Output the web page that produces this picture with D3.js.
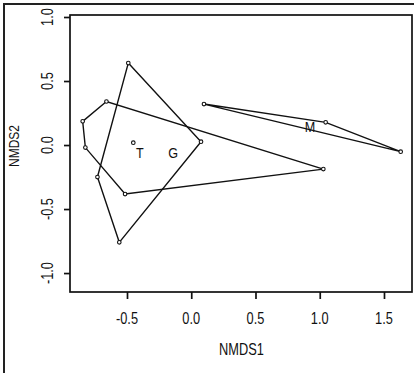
<!DOCTYPE html>
<html lang="en">
<head>
	<meta charset="UTF-8">
	<title>NMDS hulls</title>
	<style>
		body { margin: 0; background: #fff; }
		text { font-family: "Liberation Sans", Arial, sans-serif; fill: #111; }
	</style>
</head>
<body>
	<svg id="chart" width="414" height="373"></svg>
	<script src="https://d3js.org/d3.v7.min.js"></script>
	<script>

	// hull vertices (NMDS1, NMDS2)
	var hullT = [[-0.49, 0.64], [0.076, 0.026], [-0.56, -0.76], [-0.73, -0.25]];
	var hullG = [[-0.66, 0.34], [-0.845, 0.185], [-0.824, -0.02], [-0.515, -0.383], [1.028, -0.188]];
	var hullM = [[0.099, 0.32], [1.046, 0.177], [1.63, -0.052]];
	var extraPoints = [[-0.451, 0.018]];

	var groupNames = ["T", "G", "M"];
	var labelX = [-0.40, -0.14, 0.924];
	var labelY = [-0.063, -0.065, 0.14];

	var xTicks = [-0.5, 0.0, 0.5, 1.0, 1.5];
	var yTicks = [-1.0, -0.5, 0.0, 0.5, 1.0];

	var svg = d3.select("#chart"),
		plotL = 70, plotR = 412, plotT = 15, plotB = 292;

	var x = d3.scaleLinear().domain([-0.9436, 1.718]).range([plotL, plotR]);
	var y = d3.scaleLinear().domain([-1.148, 1.0156]).range([plotB, plotT]);

	// outer frame (cut off on the right and bottom)
	svg.append("rect")
		.attr("x", 4).attr("y", 4).attr("width", 520).attr("height", 520)
		.attr("fill", "none").attr("stroke", "#222").attr("stroke-width", 2);

	// plot box
	svg.append("rect")
		.attr("x", plotL).attr("y", plotT).attr("width", plotR - plotL).attr("height", plotB - plotT)
		.attr("fill", "none").attr("stroke", "#111").attr("stroke-width", 1.7);

	// axes
	var xAxis = svg.append("g").attr("transform", "translate(0," + plotB + ")")
		.call(d3.axisBottom(x).tickValues(xTicks).tickSize(7).tickFormat(d3.format(".1f")));
	var yAxis = svg.append("g").attr("transform", "translate(" + plotL + ",0)")
		.call(d3.axisLeft(y).tickValues(yTicks).tickSize(6).tickFormat(d3.format(".1f")));

	[xAxis, yAxis].forEach(function (g) {
		g.select(".domain").remove();
		g.selectAll(".tick line").attr("stroke", "#111").attr("stroke-width", 1.7);
		g.selectAll(".tick text").remove();
	});

	function label(txt, px, py, size, rot) {
		svg.append("text")
			.attr("transform", "translate(" + px + "," + py + ")" + (rot ? " rotate(-90)" : "") + " scale(0.8,1)")
			.attr("text-anchor", "middle")
			.attr("dy", "0.36em")
			.style("font-size", size + "px")
			.text(txt);
	}

	xTicks.forEach(function (t) {
		label(d3.format(".1f")(t).replace("\u2212", "-"), x(t), 318, 16, false);
	});
	yTicks.forEach(function (t) {
		label(d3.format(".1f")(t).replace("\u2212", "-"), 47, y(t), 16, true);
	});
	label("NMDS1", (plotL + plotR) / 2 + 0.5, 349, 16, false);
	label("NMDS2", 14, 146, 15, true);

	// hulls
	var line = d3.line().x(function (d) { return x(d[0]); }).y(function (d) { return y(d[1]); })
		.curve(d3.curveLinearClosed);

	[hullT, hullG, hullM].forEach(function (h) {
		svg.append("path")
			.attr("d", line(h))
			.attr("fill", "none")
			.attr("stroke", "#111")
			.attr("stroke-width", 1.4);
	});

	var pts = hullT.concat(hullG, hullM, extraPoints);
	svg.selectAll("circle.pt")
		.data(pts)
		.enter().append("circle")
		.attr("class", "pt")
		.attr("cx", function (d) { return x(d[0]); })
		.attr("cy", function (d) { return y(d[1]); })
		.attr("r", 1.8)
		.attr("fill", "#fff")
		.attr("stroke", "#111")
		.attr("stroke-width", 1.1);

	groupNames.forEach(function (g, i) {
		svg.append("text")
			.attr("transform", "translate(" + x(labelX[i]) + "," + y(labelY[i]) + ") scale(0.9,1)")
			.attr("text-anchor", "middle")
			.attr("dy", "0.36em")
			.style("font-size", "14px")
			.text(g);
	});

	</script>
</body>
</html>
